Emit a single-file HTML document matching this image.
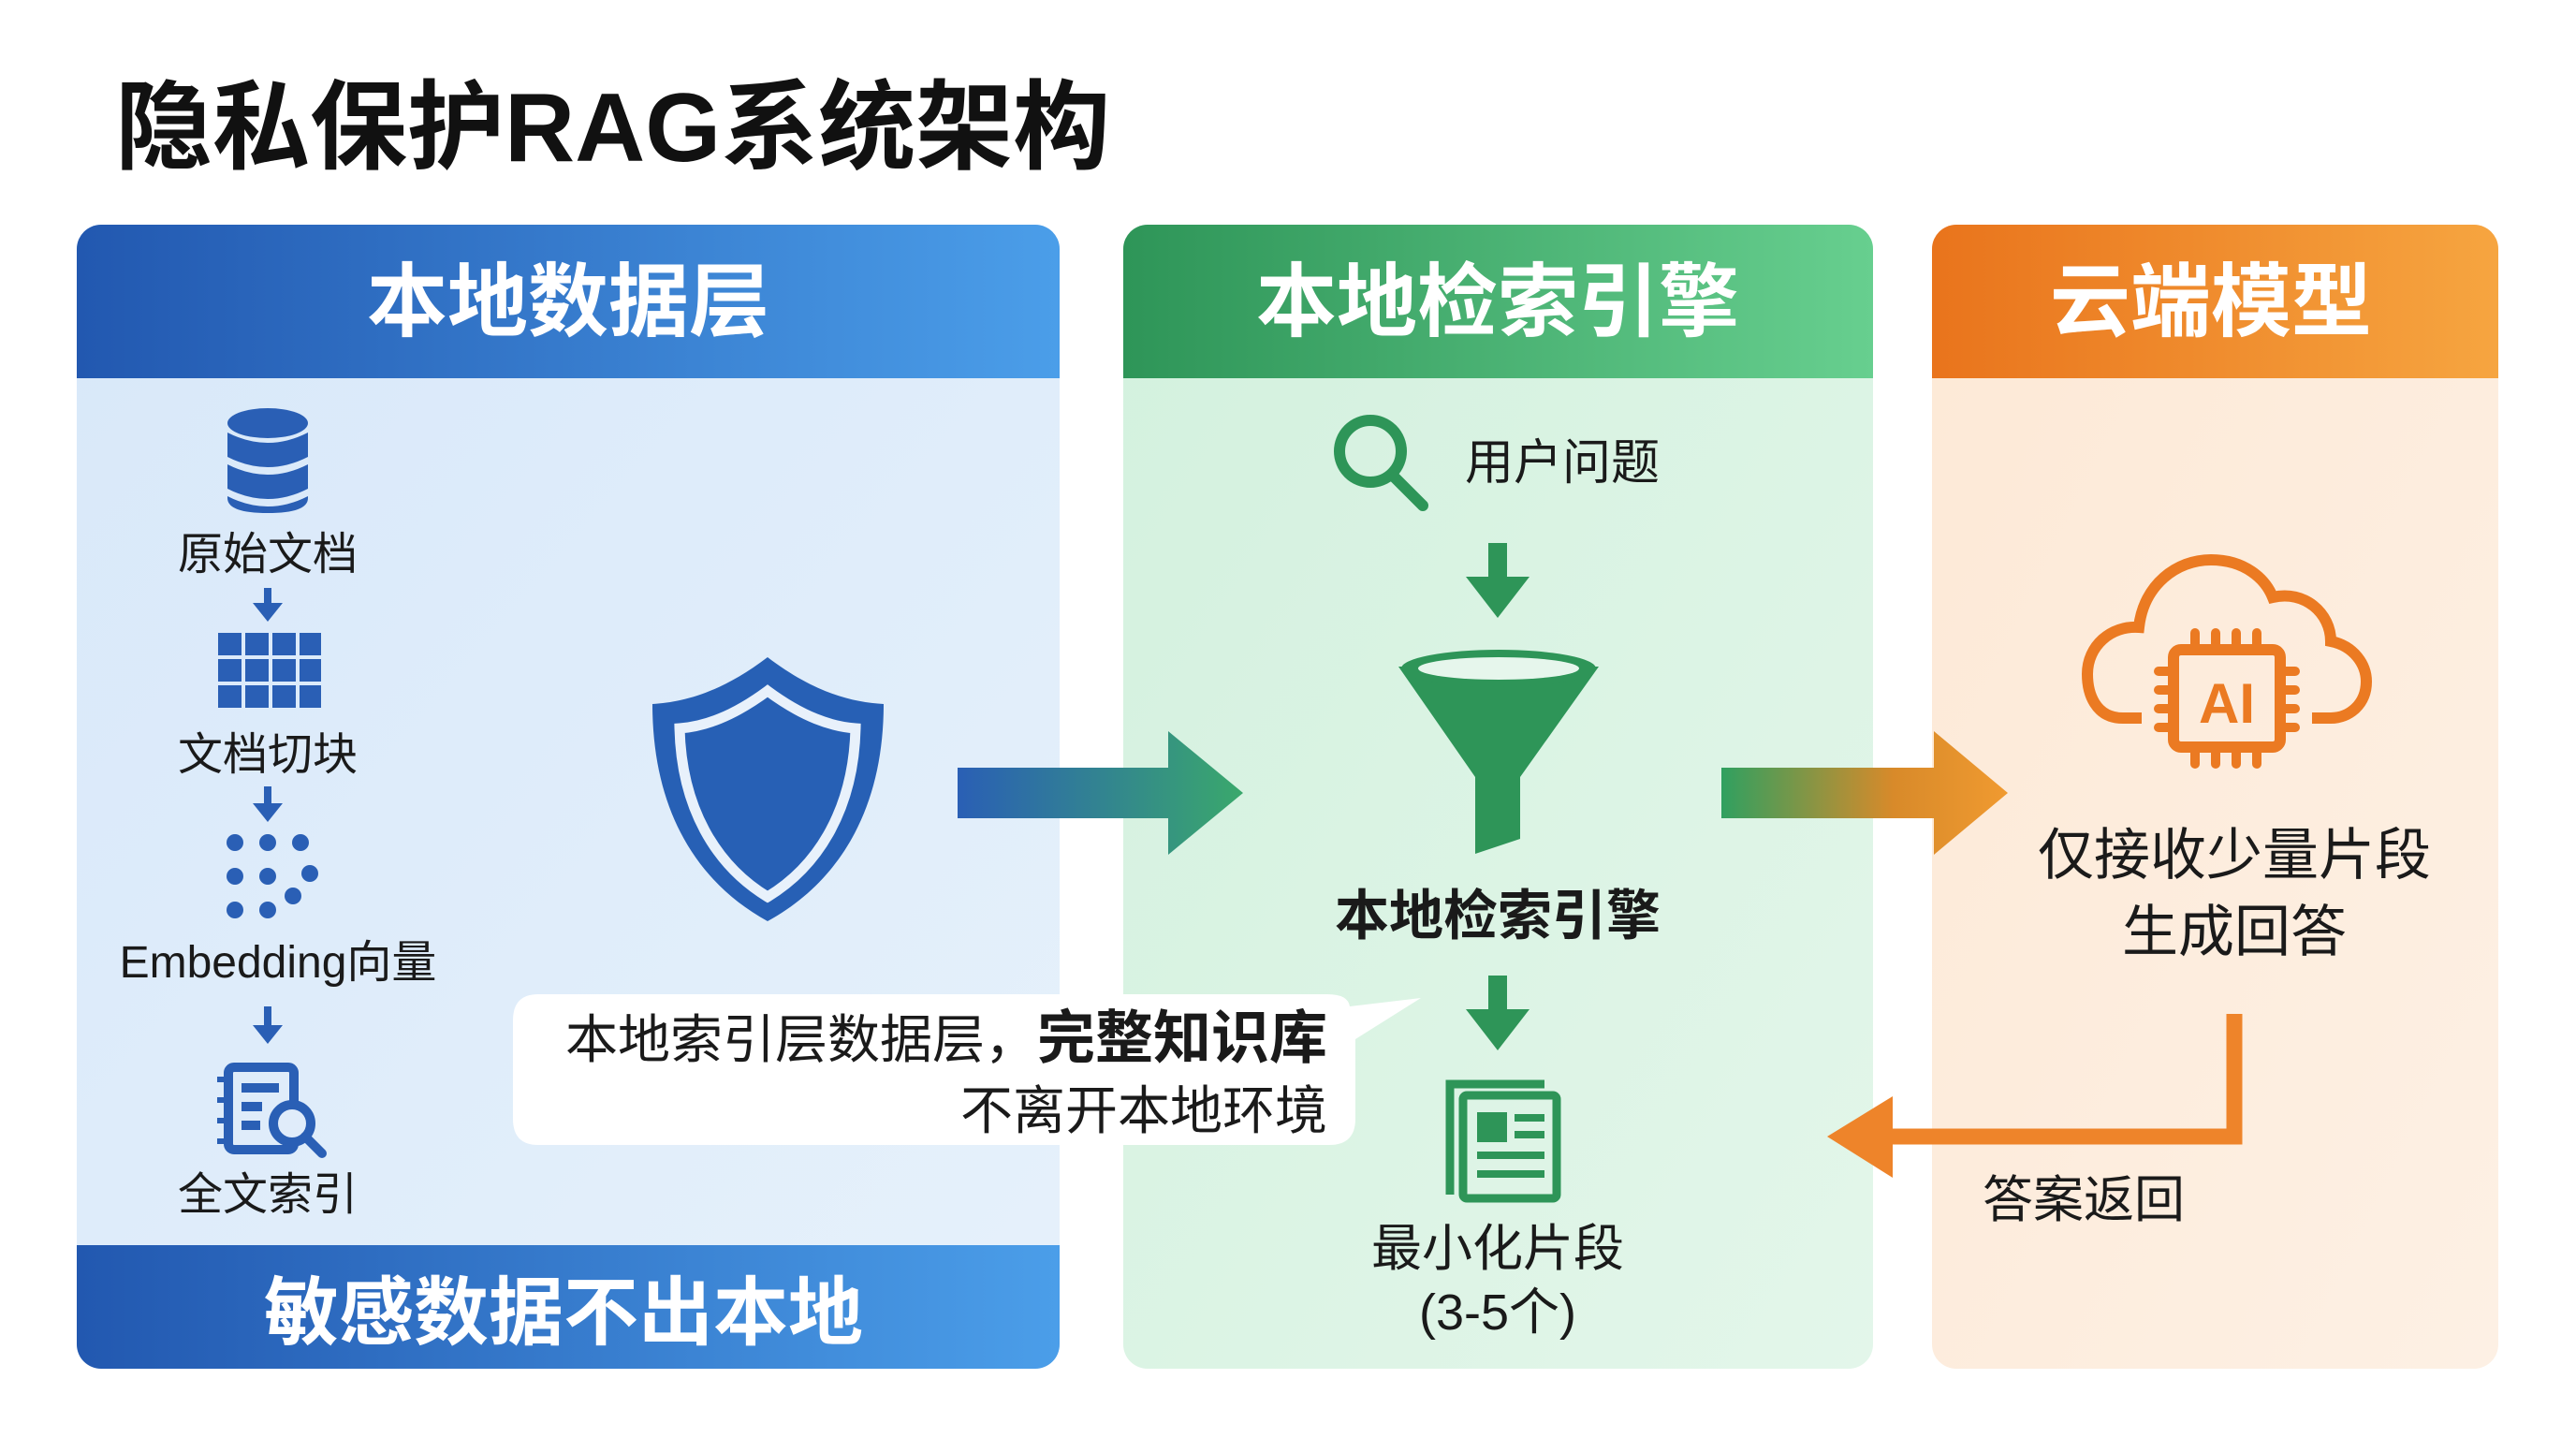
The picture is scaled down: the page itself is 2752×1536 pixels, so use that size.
<!DOCTYPE html>
<html><head><meta charset="utf-8"><style>
html,body{margin:0;padding:0;background:#fff;}
svg{display:block;}
text{font-family:"Liberation Sans","Noto Sans CJK SC",sans-serif;}
</style></head><body>
<svg width="2752" height="1536" viewBox="0 0 2752 1536" xmlns="http://www.w3.org/2000/svg">
<defs>
<linearGradient id="hb" x1="0" x2="1"><stop offset="0" stop-color="#2258b0"/><stop offset="1" stop-color="#4b9ee9"/></linearGradient>
<linearGradient id="hg" x1="0" x2="1"><stop offset="0" stop-color="#2e9558"/><stop offset="1" stop-color="#67cf8f"/></linearGradient>
<linearGradient id="ho" x1="0" x2="1"><stop offset="0" stop-color="#e9741c"/><stop offset="1" stop-color="#f6a540"/></linearGradient>
<linearGradient id="bb" x1="0" y1="0" x2="1" y2="1"><stop offset="0" stop-color="#d8e8f9"/><stop offset="1" stop-color="#e6f1fb"/></linearGradient>
<linearGradient id="bg" x1="0" y1="0" x2="1" y2="1"><stop offset="0" stop-color="#d3f1de"/><stop offset="1" stop-color="#e3f6ea"/></linearGradient>
<linearGradient id="bo" x1="0" y1="0" x2="1" y2="1"><stop offset="0" stop-color="#fde9d6"/><stop offset="1" stop-color="#fdf0e4"/></linearGradient>
<linearGradient id="a1" x1="1023" x2="1328" gradientUnits="userSpaceOnUse"><stop offset="0" stop-color="#2a5fb5"/><stop offset="1" stop-color="#3aa86c"/></linearGradient>
<linearGradient id="a2" x1="1839" x2="2145" gradientUnits="userSpaceOnUse"><stop offset="0" stop-color="#30a060"/><stop offset="0.6" stop-color="#d88a2a"/><stop offset="1" stop-color="#f09a30"/></linearGradient>
<clipPath id="c1"><rect x="82" y="240" width="1050" height="1222" rx="26"/></clipPath>
<clipPath id="c2"><rect x="1200" y="240" width="801" height="1222" rx="26"/></clipPath>
<clipPath id="c3"><rect x="2064" y="240" width="605" height="1222" rx="26"/></clipPath>
</defs>

<text x="123" y="172" font-size="104" font-weight="bold" fill="#111">隐私保护RAG系统架构</text>

<!-- Left panel -->
<g clip-path="url(#c1)">
<rect x="82" y="240" width="1050" height="1222" fill="url(#bb)"/>
<rect x="82" y="240" width="1050" height="164" fill="url(#hb)"/>
<rect x="82" y="1330" width="1050" height="132" fill="url(#hb)"/>
</g>
<text x="607" y="352" font-size="86" font-weight="bold" fill="#fff" text-anchor="middle">本地数据层</text>
<text x="602" y="1430" font-size="80" font-weight="bold" fill="#fff" text-anchor="middle">敏感数据不出本地</text>

<g fill="#2a5fb5">
<ellipse cx="286" cy="452" rx="43" ry="16"/>
<path d="M243 462 q43 22 86 0 v26 q-43 22 -86 0z"/>
<path d="M243 496 q43 22 86 0 v26 q-43 22 -86 0z"/>
<path d="M243 530 q43 22 86 0 v2 q0 16 -43 16 q-43 0 -43 -16z"/>
</g>
<text x="286" y="608" font-size="48" fill="#1a1a1a" text-anchor="middle">原始文档</text>
<g fill="#2a5fb5"><rect x="282" y="628" width="8" height="18"/><path d="M270 644 h32 l-16 20z"/></g>
<g fill="#2a5fb5">
<rect x="233" y="676" width="25" height="24"/><rect x="262" y="676" width="25" height="24"/><rect x="291" y="676" width="25" height="24"/><rect x="320" y="676" width="23" height="24"/>
<rect x="233" y="704" width="25" height="24"/><rect x="262" y="704" width="25" height="24"/><rect x="291" y="704" width="25" height="24"/><rect x="320" y="704" width="23" height="24"/>
<rect x="233" y="732" width="25" height="24"/><rect x="262" y="732" width="25" height="24"/><rect x="291" y="732" width="25" height="24"/><rect x="320" y="732" width="23" height="24"/>
</g>
<text x="286" y="822" font-size="48" fill="#1a1a1a" text-anchor="middle">文档切块</text>
<g fill="#2a5fb5"><rect x="282" y="840" width="8" height="20"/><path d="M270 858 h32 l-16 20z"/></g>
<g fill="#2a5fb5">
<circle cx="251" cy="900" r="9"/><circle cx="286" cy="900" r="9"/><circle cx="321" cy="900" r="9"/>
<circle cx="251" cy="936" r="9"/><circle cx="286" cy="936" r="9"/><circle cx="331" cy="933" r="9"/>
<circle cx="251" cy="972" r="9"/><circle cx="286" cy="972" r="9"/><circle cx="313" cy="957" r="9"/>
</g>
<text x="297" y="1044" font-size="48" fill="#1a1a1a" text-anchor="middle">Embedding向量</text>
<g fill="#2a5fb5"><rect x="282" y="1075" width="8" height="22"/><path d="M270 1095 h32 l-16 20z"/></g>
<g fill="none" stroke="#2a5fb5" stroke-width="10">
<rect x="244" y="1140" width="70" height="88" rx="6"/>
<line x1="258" y1="1162" x2="298" y2="1162"/><line x1="258" y1="1182" x2="280" y2="1182"/><line x1="258" y1="1202" x2="278" y2="1202"/>
<circle cx="312" cy="1200" r="20" fill="#e0ecfa"/><line x1="326" y1="1214" x2="344" y2="1232" stroke-linecap="round"/>
</g>
<g fill="#2a5fb5"><rect x="232" y="1150" width="14" height="6"/><rect x="232" y="1172" width="14" height="6"/><rect x="232" y="1194" width="14" height="6"/><rect x="232" y="1216" width="14" height="6"/></g>
<text x="286" y="1292" font-size="48" fill="#1a1a1a" text-anchor="middle">全文索引</text>

<path d="M820 702 C870 740 910 750 944 752 C944 860 900 940 820 984 C740 940 697 860 697 752 C730 750 770 740 820 702Z" fill="#2760b5"/>
<path d="M820 738 C858 766 888 776 914 778 C912 862 876 924 820 958 C764 924 728 862 726 778 C752 776 782 766 820 738Z" fill="none" stroke="#e8f1fb" stroke-width="11"/>

<!-- Middle panel -->
<g clip-path="url(#c2)">
<rect x="1200" y="240" width="801" height="1222" fill="url(#bg)"/>
<rect x="1200" y="240" width="801" height="164" fill="url(#hg)"/>
</g>
<text x="1600" y="352" font-size="86" font-weight="bold" fill="#fff" text-anchor="middle">本地检索引擎</text>
<g fill="none" stroke="#2e9558" stroke-width="12" stroke-linecap="round">
<circle cx="1464" cy="482" r="33"/><line x1="1490" y1="510" x2="1520" y2="540"/>
</g>
<text x="1565" y="512" font-size="52" fill="#1a1a1a">用户问题</text>
<g fill="#2e9558"><rect x="1590" y="580" width="20" height="40"/><path d="M1566 616 h68 l-34 44z"/></g>
<path d="M1494 712 L1576 830 L1576 912 L1624 896 L1624 830 L1708 712 Z" fill="#2e9558"/>
<ellipse cx="1601" cy="714" rx="104" ry="20" fill="#2e9558"/>
<ellipse cx="1601" cy="714" rx="86" ry="12" fill="#e6f6ec"/>
<text x="1600" y="998" font-size="58" font-weight="bold" fill="#1a1a1a" text-anchor="middle">本地检索引擎</text>
<g fill="#2e9558"><rect x="1590" y="1042" width="20" height="40"/><path d="M1566 1078 h68 l-34 44z"/></g>
<g fill="none" stroke="#2e9558" stroke-width="9">
<path d="M1549 1276 V1158 H1650"/>
<rect x="1563" y="1170" width="100" height="110" rx="4"/>
</g>
<g fill="#2e9558"><rect x="1578" y="1188" width="32" height="32"/><rect x="1618" y="1190" width="32" height="8"/><rect x="1618" y="1208" width="32" height="8"/><rect x="1578" y="1230" width="72" height="8"/><rect x="1578" y="1250" width="72" height="8"/></g>
<text x="1600" y="1352" font-size="54" fill="#1a1a1a" text-anchor="middle">最小化片段</text>
<text x="1600" y="1420" font-size="54" fill="#1a1a1a" text-anchor="middle">(3-5个)</text>

<path d="M575 1062 H1418 Q1440 1062 1442 1075 L1518 1066 L1448 1110 V1195 Q1448 1223 1420 1223 H575 Q548 1223 548 1195 V1090 Q548 1062 575 1062Z" fill="#fff"/>
<text x="1418" y="1130" font-size="56" fill="#1a1a1a" text-anchor="end">本地索引层数据层，<tspan font-weight="bold" font-size="62">完整知识库</tspan></text>
<text x="1418" y="1206" font-size="56" fill="#1a1a1a" text-anchor="end">不离开本地环境</text>

<!-- Right panel -->
<g clip-path="url(#c3)">
<rect x="2064" y="240" width="605" height="1222" fill="url(#bo)"/>
<rect x="2064" y="240" width="605" height="164" fill="url(#ho)"/>
</g>
<text x="2362" y="352" font-size="86" font-weight="bold" fill="#fff" text-anchor="middle">云端模型</text>
<g fill="none" stroke="#eb7a22" stroke-width="12">
<path d="M2288 767 H2268 C2238 767 2230 740 2230 720 C2230 690 2255 668 2285 670 C2290 625 2325 598 2362 598 C2398 598 2420 618 2428 638 C2462 630 2490 655 2490 685 C2515 690 2528 710 2528 728 C2528 752 2510 767 2490 767 H2470"/>
<rect x="2322" y="694" width="114" height="104" rx="8"/>
</g>
<g stroke="#eb7a22" stroke-width="10" stroke-linecap="round">
<line x1="2345" y1="676" x2="2345" y2="690"/><line x1="2367" y1="676" x2="2367" y2="690"/><line x1="2389" y1="676" x2="2389" y2="690"/><line x1="2411" y1="676" x2="2411" y2="690"/>
<line x1="2345" y1="802" x2="2345" y2="816"/><line x1="2367" y1="802" x2="2367" y2="816"/><line x1="2389" y1="802" x2="2389" y2="816"/><line x1="2411" y1="802" x2="2411" y2="816"/>
<line x1="2306" y1="717" x2="2318" y2="717"/><line x1="2306" y1="737" x2="2318" y2="737"/><line x1="2306" y1="757" x2="2318" y2="757"/><line x1="2306" y1="777" x2="2318" y2="777"/>
<line x1="2440" y1="717" x2="2452" y2="717"/><line x1="2440" y1="737" x2="2452" y2="737"/><line x1="2440" y1="757" x2="2452" y2="757"/><line x1="2440" y1="777" x2="2452" y2="777"/>
</g>
<text x="2379" y="772" font-size="60" font-weight="bold" fill="#eb7a22" text-anchor="middle">AI</text>
<text x="2387" y="934" font-size="60" fill="#1a1a1a" text-anchor="middle">仅接收少量片段</text>
<text x="2387" y="1016" font-size="60" fill="#1a1a1a" text-anchor="middle">生成回答</text>
<path d="M2387 1083 V1214 H2020" fill="none" stroke="#ee842a" stroke-width="17"/>
<path d="M2022 1171 L1952 1214 L2022 1258Z" fill="#ee842a"/>
<text x="2118" y="1300" font-size="54" fill="#1a1a1a">答案返回</text>

<!-- arrows on top -->
<path d="M1023 820 H1248 V781 L1328 847 L1248 913 V874 H1023Z" fill="url(#a1)"/>
<path d="M1839 820 H2066 V781 L2145 847 L2066 913 V874 H1839Z" fill="url(#a2)"/>
</svg>
</body></html>
